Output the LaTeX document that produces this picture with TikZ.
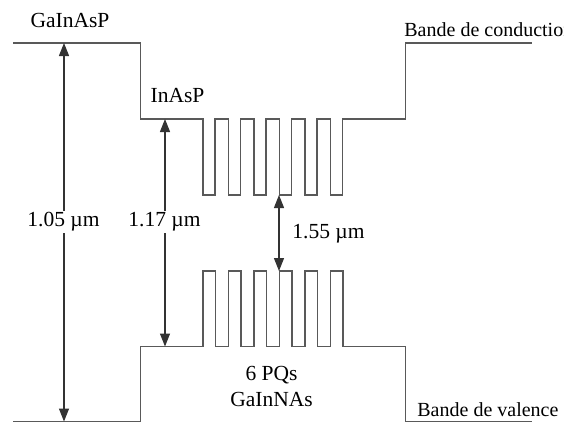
\documentclass[tikz,border=0pt]{standalone}
\usepackage{fontspec}
\setmainfont{Liberation Serif}
\usetikzlibrary{arrows.meta}
\begin{document}
\begin{tikzpicture}[x=0.5pt,y=-0.5pt,
  band/.style={draw=black!65, line width=0.8pt},
  gap/.style={draw=black!80, line width=0.55pt, {Triangle[width=5pt,length=6.5pt]}-{Triangle[width=5pt,length=6.5pt]}},
  lbl/.style={font=\fontsize{10.75}{13}\selectfont, inner sep=1pt, fill=white},
  blbl/.style={font=\fontsize{10}{12}\selectfont, inner sep=0pt, anchor=west}]
\useasboundingbox (0,0) rectangle (573,423);
% conduction band
\draw[band] (13,43) -- (140.5,43) -- (140.5,119) -- (203,119)
  \foreach \i in {0,...,5} {
    -- ({203+25.5*\i},119) -- ({203+25.5*\i},195) -- ({215+25.5*\i},195) -- ({215+25.5*\i},119)
  } -- (405.5,119) -- (405.5,43) -- (532,43);
% valence band
\draw[band] (13,421.5) -- (140.5,421.5) -- (140.5,346.5) -- (203,346.5)
  \foreach \i in {0,...,5} {
    -- ({203+25.5*\i},346.5) -- ({203+25.5*\i},271) -- ({215.5+25.5*\i},271) -- ({215.5+25.5*\i},346.5)
  } -- (405.5,346.5) -- (405.5,421.5) -- (532,421.5);
% arrow end points
\coordinate (c105t) at (64,43);
\coordinate (c105b) at (64,421.5);
\coordinate (c117t) at (165,119);
\coordinate (c117b) at (165,346.5);
\coordinate (c155t) at (279,195);
\coordinate (c155b) at (279,271);
\draw[gap] (c105t) -- (c105b);
\draw[gap] (c117t) -- (c117b);
\draw[gap] (c155t) -- (c155b);
% labels
\node[lbl] (l105) at (63.5,222) {1.05 µm};
\node[lbl] (l117) at (164.5,222) {1.17 µm};
\node[lbl] (l155) at (328.5,233.5) {1.55 µm};
\node[lbl] (gainasp) at (70,20) {GaInAsP};
\node[lbl] (inasp) at (177.5,96) {InAsP};
\node[lbl, align=center] (pq) at (271.5,386) {6 PQs\\GaInNAs};
\begin{scope}
  \clip (395,10) rectangle (563,50);
  \node[blbl] (bc) at (404,30) {Bande de conduction};
\end{scope}
\node[blbl] (bv) at (417,410) {Bande de valence};
\end{tikzpicture}
\end{document}
